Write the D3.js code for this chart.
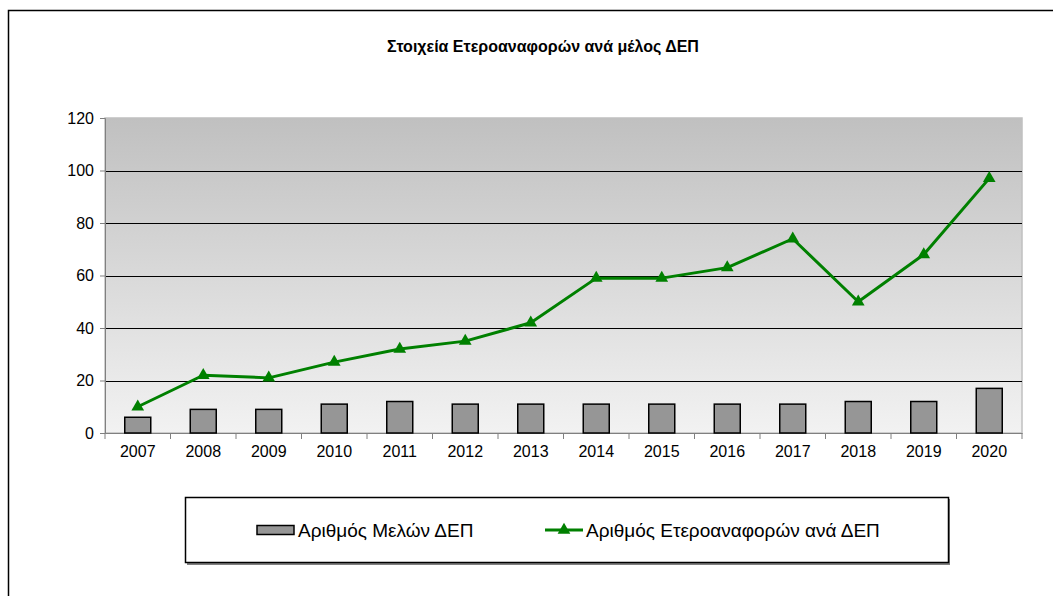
<!DOCTYPE html>
<html>
<head>
<meta charset="utf-8">
<script src="https://cdn.jsdelivr.net/npm/d3@7"></script>
<style>
  body { margin: 0; background: #fff; }
  svg { display: block; font-family: "Liberation Sans", Arial, sans-serif; }
</style>
</head>
<body>
<div id="chart"></div>
<script>
const years = ["2007", "2008", "2009", "2010", "2011", "2012", "2013", "2014", "2015", "2016", "2017", "2018", "2019", "2020"];
const members = [6, 9, 9, 11, 12, 11, 11, 11, 11, 11, 11, 12, 12, 17];
const crossRefs = [10, 22, 21, 27, 32, 35, 42, 59, 59, 63, 74, 50, 68, 97];
const yTicks = [0, 20, 40, 60, 80, 100, 120];

const title = "Στοιχεία Ετεροαναφορών ανά μέλος ΔΕΠ";
const barName = "Αριθμός Μελών ΔΕΠ";
const lineName = "Αριθμός Ετεροαναφορών ανά ΔΕΠ";

const width = 1053, height = 596;
const plot = { left: 105, right: 1022, top: 118, bottom: 433 };

const svg = d3.select("#chart").append("svg")
  .attr("width", width)
  .attr("height", height);

// outer chart frame
svg.append("rect")
  .attr("x", 8.5).attr("y", 10.5)
  .attr("width", 1060).attr("height", 600)
  .attr("fill", "#fff")
  .attr("stroke", "#000")
  .attr("stroke-width", 1.5);

svg.append("text")
  .attr("x", 543).attr("y", 52)
  .attr("text-anchor", "middle")
  .attr("font-weight", "bold")
  .attr("font-size", 16)
  .text(title);

const x = d3.scaleBand().domain(years).range([plot.left, plot.right]);
const y = d3.scaleLinear().domain([0, 120]).range([plot.bottom, plot.top]);

// background gradient
const defs = svg.append("defs");
const grad = defs.append("linearGradient")
  .attr("id", "bg").attr("x1", 0).attr("y1", 0).attr("x2", 0).attr("y2", 1);
grad.append("stop").attr("offset", "0%").attr("stop-color", "#c0c0c0");
grad.append("stop").attr("offset", "100%").attr("stop-color", "#f2f2f2");

svg.append("rect")
  .attr("x", plot.left).attr("y", plot.top)
  .attr("width", plot.right - plot.left).attr("height", plot.bottom - plot.top)
  .attr("fill", "url(#bg)")
  .attr("stroke", "#c0c0c0")
  .attr("stroke-width", 1.5);

// gridlines
svg.append("g")
  .selectAll("line")
  .data(yTicks.filter(t => t > 0 && t < 120))
  .join("line")
  .attr("x1", plot.left).attr("x2", plot.right)
  .attr("y1", d => Math.round(y(d)) + 0.5).attr("y2", d => Math.round(y(d)) + 0.5)
  .attr("stroke", "#000")
  .attr("stroke-width", 1);

// y axis
const yAxis = svg.append("g")
  .attr("transform", `translate(${plot.left},0)`)
  .call(d3.axisLeft(y).tickValues(yTicks).tickSize(5).tickPadding(6));
yAxis.selectAll("path, line").attr("stroke", "#808080");
yAxis.selectAll("text").attr("font-size", 16).attr("fill", "#000")
  .attr("font-family", "Liberation Sans, Arial, sans-serif");

// x axis
const xAxis = svg.append("g")
  .attr("transform", `translate(0,${plot.bottom})`)
  .call(d3.axisBottom(x).tickSize(0).tickPadding(13));
xAxis.select("path").attr("stroke", "#808080");
xAxis.selectAll("text").attr("font-size", 16).attr("fill", "#000")
  .attr("font-family", "Liberation Sans, Arial, sans-serif");
xAxis.selectAll("line.sep")
  .data(years.concat(["end"]))
  .join("line")
  .attr("class", "sep")
  .attr("x1", (d, i) => plot.left + i * x.step())
  .attr("x2", (d, i) => plot.left + i * x.step())
  .attr("y1", 0).attr("y2", 6)
  .attr("stroke", "#808080");

// bars
const barW = 26;
svg.append("g")
  .selectAll("rect")
  .data(years)
  .join("rect")
  .attr("x", d => x(d) + x.bandwidth() / 2 - barW / 2)
  .attr("y", (d, i) => y(members[i]))
  .attr("width", barW)
  .attr("height", (d, i) => y(0) - y(members[i]))
  .attr("fill", "#969696")
  .attr("stroke", "#000")
  .attr("stroke-width", 1.5);

// line
const cx = d => x(d) + x.bandwidth() / 2;
const line = d3.line().x((d, i) => cx(years[i])).y(d => y(d));
svg.append("path")
  .datum(crossRefs)
  .attr("d", line)
  .attr("fill", "none")
  .attr("stroke", "#008000")
  .attr("stroke-width", 3)
  .attr("stroke-linejoin", "round");

const tri = d3.symbol().type(d3.symbolTriangle).size(70);
svg.append("g")
  .selectAll("path")
  .data(crossRefs)
  .join("path")
  .attr("d", tri)
  .attr("transform", (d, i) => `translate(${cx(years[i])},${y(d)})`)
  .attr("fill", "#008000");

// legend
const lg = svg.append("g");
lg.append("rect")
  .attr("x", 187).attr("y", 499)
  .attr("width", 763).attr("height", 66)
  .attr("fill", "#808080");
lg.append("rect")
  .attr("x", 185.5).attr("y", 497.5)
  .attr("width", 763).attr("height", 65)
  .attr("fill", "#fff")
  .attr("stroke", "#000")
  .attr("stroke-width", 1.5);

lg.append("rect")
  .attr("x", 257).attr("y", 525.5)
  .attr("width", 37).attr("height", 9)
  .attr("fill", "#969696")
  .attr("stroke", "#000")
  .attr("stroke-width", 1.5);
lg.append("text")
  .attr("x", 298).attr("y", 537)
  .attr("font-size", 19)
  .text(barName);

lg.append("line")
  .attr("x1", 545).attr("x2", 583)
  .attr("y1", 530).attr("y2", 530)
  .attr("stroke", "#008000")
  .attr("stroke-width", 3);
lg.append("path")
  .attr("d", tri)
  .attr("transform", "translate(564,530)")
  .attr("fill", "#008000");
lg.append("text")
  .attr("x", 586).attr("y", 537)
  .attr("font-size", 19)
  .text(lineName);
</script>
</body>
</html>
